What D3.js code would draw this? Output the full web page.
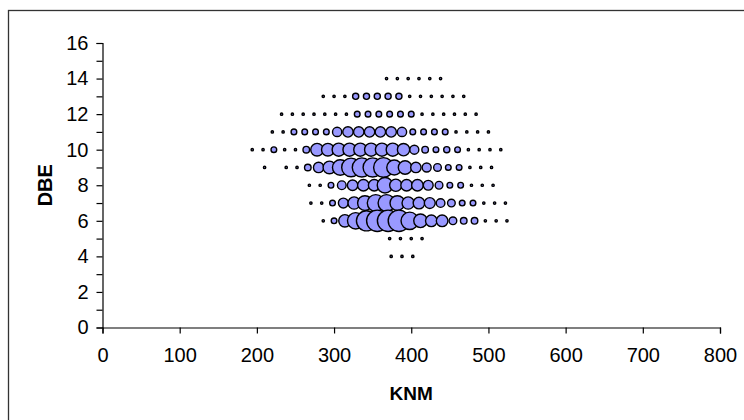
<!DOCTYPE html>
<html>
<head>
<meta charset="utf-8">
<script src="https://d3js.org/d3.v7.min.js"></script>
<style>
  body { margin: 0; background: #fff; }
  svg { display: block; font-family: "Liberation Sans", Arial, sans-serif; }
</style>
</head>
<body>
<svg id="chart" width="744" height="420"></svg>
<script>
// DBE rows, top to bottom
const rowDbe = [14, 13, 12, 11, 10, 9, 8, 7, 6, 5, 4];

// KNM values of each row
const rowKnm = [
  [368, 382, 396, 410, 424, 438],
  [286, 300, 314, 328, 342, 356, 370, 384, 398, 412, 426, 440, 454, 468],
  [232, 246, 260, 274, 288, 302, 316, 330, 344, 358, 372, 386, 400, 414, 428, 442, 456, 470, 484],
  [220, 234, 248, 262, 276, 290, 304, 318, 332, 346, 360, 374, 388, 402, 416, 430, 444, 458, 472, 486, 500],
  [194, 208, 222, 236, 250, 264, 278, 292, 306, 320, 334, 348, 362, 376, 390, 404, 418, 432, 446, 460, 474, 488, 502, 516],
  [210, 238, 252, 266, 280, 294, 308, 322, 336, 350, 364, 378, 392, 406, 420, 434, 448, 462, 476, 490, 504],
  [268, 282, 296, 310, 324, 338, 352, 366, 380, 394, 408, 422, 436, 450, 464, 478, 492, 506],
  [270, 284, 298, 312, 326, 340, 354, 368, 382, 396, 410, 424, 438, 452, 466, 480, 494, 508, 522],
  [286, 300, 314, 328, 342, 356, 370, 384, 398, 412, 426, 440, 454, 468, 482, 496, 510, 524],
  [372, 386, 400, 414],
  [374, 388, 402]
];

// bubble sizes (relative abundance) of each row
const rowSize = [
  [1, 1, 1, 1, 1, 1],
  [1, 1, 1, 7, 7, 7, 7, 7, 1, 1, 1, 1, 1, 1],
  [1, 1, 1, 1, 1, 1, 1, 6, 6, 6, 6, 6, 6, 1, 1, 1, 1, 1, 1],
  [1, 1, 6, 6, 6, 6, 16, 20, 20, 20, 20, 20, 16, 6, 6, 6, 6, 1, 1, 1, 1],
  [1, 1, 6, 1, 1, 8, 30, 30, 32, 32, 32, 32, 32, 32, 28, 15, 8, 6, 7, 6, 1, 1, 1, 1],
  [1, 1, 1, 8, 20, 30, 45, 65, 68, 68, 72, 42, 34, 20, 15, 11, 6, 6, 1, 1, 1],
  [1, 1, 6, 14, 20, 25, 25, 45, 28, 25, 25, 18, 11, 6, 6, 1, 1, 1],
  [1, 1, 6, 18, 28, 40, 53, 53, 40, 28, 25, 22, 14, 11, 6, 6, 1, 1, 1],
  [1, 6, 28, 50, 75, 85, 85, 85, 56, 34, 25, 25, 11, 8, 8, 1, 1, 1],
  [1, 1, 1, 1],
  [1, 1, 1]
];

// Axis ticks
const xTicks = [0, 100, 200, 300, 400, 500, 600, 700, 800];
const yTicks = [0, 2, 4, 6, 8, 10, 12, 14, 16];
const yMinorTicks = [1, 3, 5, 7, 9, 11, 13, 15];

const svg = d3.select("#chart");

// Chart area frame (only top and left edges show)
svg.append("rect")
  .attr("x", 8.5)
  .attr("y", 10.5)
  .attr("width", 900)
  .attr("height", 600)
  .attr("fill", "none")
  .attr("stroke", "#333")
  .attr("stroke-width", 1.3);

const x = d3.scaleLinear().domain([0, 800]).range([102.5, 720]);
const y = d3.scaleLinear().domain([0, 16]).range([327.5, 43]);
const r = d3.scaleSqrt().domain([0, 100]).range([0, 11.6]);

// flatten rows into points, drawn in KNM order
const points = [];
rowDbe.forEach((dbe, i) => {
  rowKnm[i].forEach((knm, j) => {
    points.push({ knm: knm, dbe: dbe, size: rowSize[i][j] });
  });
});
points.sort((a, b) => a.knm - b.knm);

svg.append("g")
  .selectAll("circle")
  .data(points)
  .join("circle")
  .attr("cx", (d) => x(d.knm))
  .attr("cy", (d) => y(d.dbe))
  .attr("r", (d) => r(d.size))
  .attr("fill", "#9999ff")
  .attr("stroke", "#000")
  .attr("stroke-width", 1.4);

// X axis
svg.append("g")
  .attr("transform", `translate(0,${y(0)})`)
  .call(d3.axisBottom(x).tickValues(xTicks).tickSize(6).tickPadding(14).tickFormat(d3.format("d")));

// Y axis (major + minor ticks)
svg.append("g")
  .attr("transform", `translate(${x(0)},0)`)
  .call(d3.axisLeft(y).tickValues(yTicks).tickSize(6).tickPadding(8).tickFormat(d3.format("d")));

svg.append("g")
  .attr("transform", `translate(${x(0)},0)`)
  .call(d3.axisLeft(y).tickValues(yMinorTicks).tickSize(6).tickFormat(""))
  .call((g) => g.select(".domain").remove());

svg.selectAll(".domain, .tick line").attr("stroke", "#000").attr("stroke-width", 1.2);
svg.selectAll(".tick text")
  .attr("fill", "#000")
  .attr("font-size", "20px")
  .attr("font-family", "Liberation Sans, Arial, sans-serif");

// Axis titles
svg.append("text")
  .attr("x", (x(0) + x(800)) / 2)
  .attr("y", 400)
  .attr("text-anchor", "middle")
  .attr("font-size", "19px")
  .attr("font-weight", "bold")
  .text("KNM");

svg.append("text")
  .attr("transform", `translate(52,${(y(0) + y(16)) / 2}) rotate(-90)`)
  .attr("text-anchor", "middle")
  .attr("font-size", "20px")
  .attr("font-weight", "bold")
  .text("DBE");
</script>
</body>
</html>
